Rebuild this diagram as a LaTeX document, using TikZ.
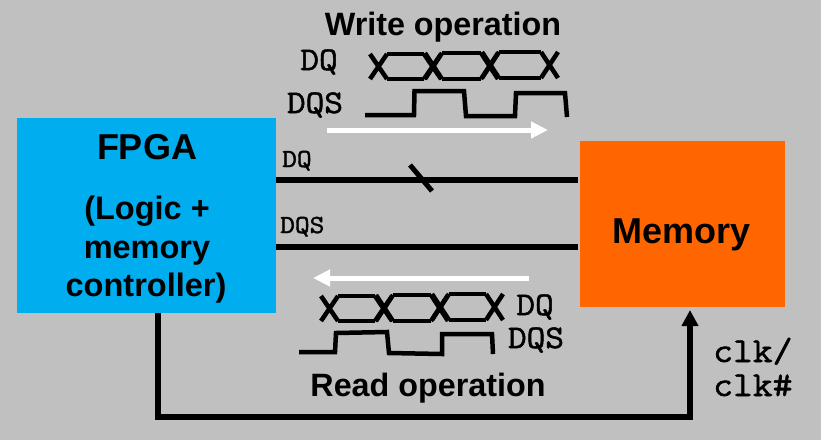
\documentclass[tikz,border=0pt]{standalone}
\usepackage{fontspec}
\setmainfont{Liberation Sans}
\setmonofont[FakeBold=1.6,FakeStretch=1.1]{Latin Modern Mono}
\usetikzlibrary{arrows.meta}
\definecolor{bggray}{HTML}{C0C0C0}
\definecolor{fpgablue}{HTML}{00ADEF}
\definecolor{memorange}{HTML}{FF6600}
\tikzset{
  block/.style={rectangle, inner sep=0pt, outer sep=0pt},
  headtxt/.style={anchor=base, inner sep=0pt, font=\fontsize{32.3}{32}\selectfont\bfseries},
  blocktxt/.style={anchor=base, inner sep=0pt, font=\fontsize{32.5}{32.5}\selectfont\bfseries},
  bigtxt/.style={anchor=base, inner sep=0pt, font=\fontsize{36}{36}\selectfont\bfseries},
  sigtxt/.style={anchor=base, inner sep=0pt, font=\fontsize{33}{33}\selectfont\ttfamily},
  smalltxt/.style={anchor=base west, inner sep=0pt, font=\fontsize{26}{26}\selectfont\ttfamily},
  clktxt/.style={anchor=base west, inner sep=0pt, font=\fontsize{35}{35}\selectfont\ttfamily},
  bus/.style={line width=6pt, black},
  wave/.style={line width=4.5pt, black, line join=miter},
  flow/.style={line width=5pt, white, -{Triangle[length=17pt,width=16pt]}},
  clkline/.style={line width=6pt, black, -{Triangle[length=16pt,width=16pt]}}
}
% one data eye: #1 left crossing, #2 right crossing, #3 top, #4 bottom
\newcommand{\dqeye}[4]{
  \draw[wave] (#1+9,#3) -- (#2-9,#3) (#1+9,#4) -- (#2-9,#4);
  \draw[wave] (#1+9,#3) -- (#1-8,#4) (#1+9,#4) -- (#1-8,#3);
  \draw[wave] (#2-9,#3) -- (#2+8,#4) (#2-9,#4) -- (#2+8,#3);
}
\begin{document}
\begin{tikzpicture}[x=1pt,y=-1pt]
  \fill[bggray] (0,0) rectangle (821,440);

  % Blocks
  % ======
  \node[block, fill=fpgablue, minimum width=259pt, minimum height=195pt] (fpga) at (146.5,215.5) {};
  \node[block, fill=memorange, minimum width=205pt, minimum height=166pt] (memory) at (682.5,224) {};

  \node[bigtxt] (fpgatxt) at (147,159) {FPGA};
  \node[blocktxt] (logictxt) at (147,219) {(Logic +};
  \node[blocktxt] (memtxt) at (147,258) {memory};
  \node[blocktxt] (ctrltxt) at (146,296) {controller)};
  \node[bigtxt] (memorytxt) at (682,243) {Memory};

  % Buses
  % =====
  \coordinate (dqa) at (276,180);
  \coordinate (dqb) at (578,180);
  \coordinate (dqsa) at (276,247);
  \coordinate (dqsb) at (578,247);
  \coordinate (slasha) at (410,165);
  \coordinate (slashb) at (432,191);
  \draw[bus] (dqa) -- (dqb);
  \draw[bus] (dqsa) -- (dqsb);
  \draw[bus, line width=5pt] (slasha) -- (slashb);
  \node[smalltxt] (dqlabel) at (282,167) {DQ};
  \node[smalltxt] (dqslabel) at (280,233) {DQS};

  % Clock
  % =====
  \coordinate (clka) at (158,313);
  \coordinate (clkc) at (158,417);
  \coordinate (clkb) at (690,310);
  \draw[clkline] (clka) -- (clkc) -| (clkb);
  \node[clktxt] (clktop) at (713,362) {clk/};
  \node[clktxt] (clkbot) at (713,396) {clk\#};

  % Write operation
  % ===============
  \node[headtxt] (writetxt) at (443,35) {Write operation};
  \node[sigtxt] (wdq) at (319,70) {DQ};
  \node[sigtxt] (wdqs) at (315,113) {DQS};
  \dqeye{378}{433}{54}{79};
  \dqeye{433}{490}{53}{79};
  \dqeye{490}{550}{52}{78};
  \draw[wave] (365,115) -- (414,115) -- (414.5,91) -- (464,91) -- (466,116)
    -- (515,116) -- (516,93) -- (565,93) -- (567,117);
  \coordinate (wflowa) at (327,130);
  \coordinate (wflowb) at (548,130);
  \draw[flow] (wflowa) -- (wflowb);

  % Read operation
  % ==============
  \node[headtxt] (readtxt) at (428,396) {Read operation};
  \node[sigtxt] (rdq) at (535,315) {DQ};
  \node[sigtxt] (rdqs) at (536,348) {DQS};
  \dqeye{329}{384}{296}{321};
  \dqeye{384}{440}{295}{321};
  \dqeye{440}{495}{294}{320};
  \draw[wave] (299,352) -- (335,352) -- (336,333) -- (387,332) -- (389,353)
    -- (442,354) -- (442,334) -- (492,334) -- (493,354);
  \coordinate (rflowa) at (529,278);
  \coordinate (rflowb) at (313,278);
  \draw[flow] (rflowa) -- (rflowb);
\end{tikzpicture}
\end{document}
